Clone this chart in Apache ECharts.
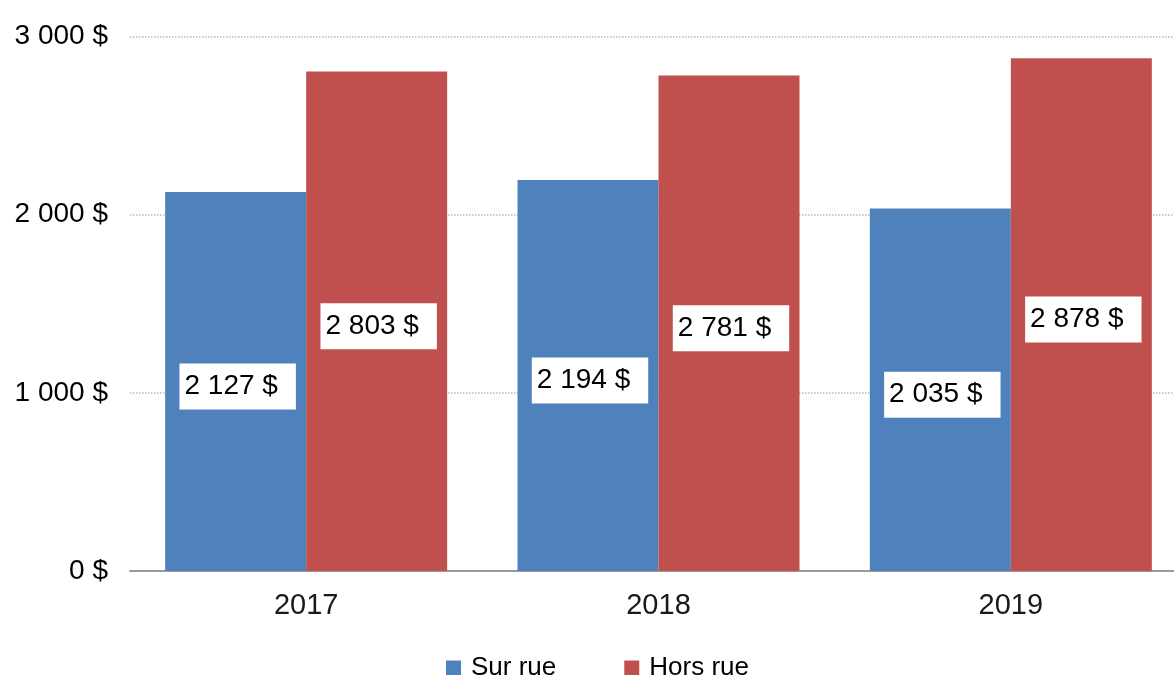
<!DOCTYPE html>
<html>
<head>
<meta charset="utf-8">
<script src="https://cdn.jsdelivr.net/npm/echarts@6/dist/echarts.min.js"></script>
<style>html,body{margin:0;padding:0;background:#fff;}#c{width:1174px;height:675px;}</style>
</head>
<body>
<div id="c"></div>
<script>
var categories = ['2017', '2018', '2019'];
var surRue = [2127, 2194, 2035];
var horsRue = [2803, 2781, 2878];
var yTicks = [0, 1000, 2000, 3000];

function fmt(v) {
  var s = String(Math.round(v));
  return s.replace(/\B(?=(\d{3})+(?!\d))/g, ' ') + ' $';
}
var FONT = '"Liberation Sans", Arial, sans-serif';
var labelCfg = {
  show: true,
  position: 'inside',
  offset: [2, 5],
  formatter: function (p) { return fmt(p.value); },
  color: '#000',
  fontFamily: FONT,
  fontSize: 28,
  backgroundColor: '#fff',
  padding: [8, 18, 7, 5],
  lineHeight: 31
};
var chart = echarts.init(document.getElementById('c'));
chart.setOption({
  animation: false,
  grid: { left: 130, width: 1057, top: 36.5, bottom: 104, containLabel: false, outerBoundsMode: 'none' },
  legend: {
    data: ['Sur rue', 'Hors rue'],
    top: 650,
    left: 441,
    icon: 'rect',
    itemWidth: 15,
    itemHeight: 15,
    itemGap: 68,
    textStyle: { fontFamily: FONT, fontSize: 26, color: '#000', padding: [0, 0, 0, 5] }
  },
  xAxis: {
    type: 'category',
    data: categories,
    axisLine: { show: true, lineStyle: { color: '#9a9a9a', width: 2 } },
    axisTick: { show: false },
    axisLabel: { fontFamily: FONT, fontSize: 29, color: '#1a1a1a', margin: 20 }
  },
  yAxis: {
    type: 'value',
    min: yTicks[0],
    max: yTicks[yTicks.length - 1],
    interval: 1000,
    axisLine: { show: false },
    axisTick: { show: false },
    axisLabel: { fontFamily: FONT, fontSize: 28, color: '#000', margin: 22, formatter: function (v) { return fmt(v); } },
    splitLine: { show: true, lineStyle: { color: '#b8b8b8', type: 'dotted', width: 1.5 } }
  },
  series: [
    { name: 'Sur rue', type: 'bar', data: surRue, barWidth: 141, barGap: '0%', itemStyle: { color: '#4f81bd' }, label: labelCfg },
    { name: 'Hors rue', type: 'bar', data: horsRue, barWidth: 141, barGap: '0%', itemStyle: { color: '#c0504d' }, label: labelCfg }
  ]
});
</script>
</body>
</html>
